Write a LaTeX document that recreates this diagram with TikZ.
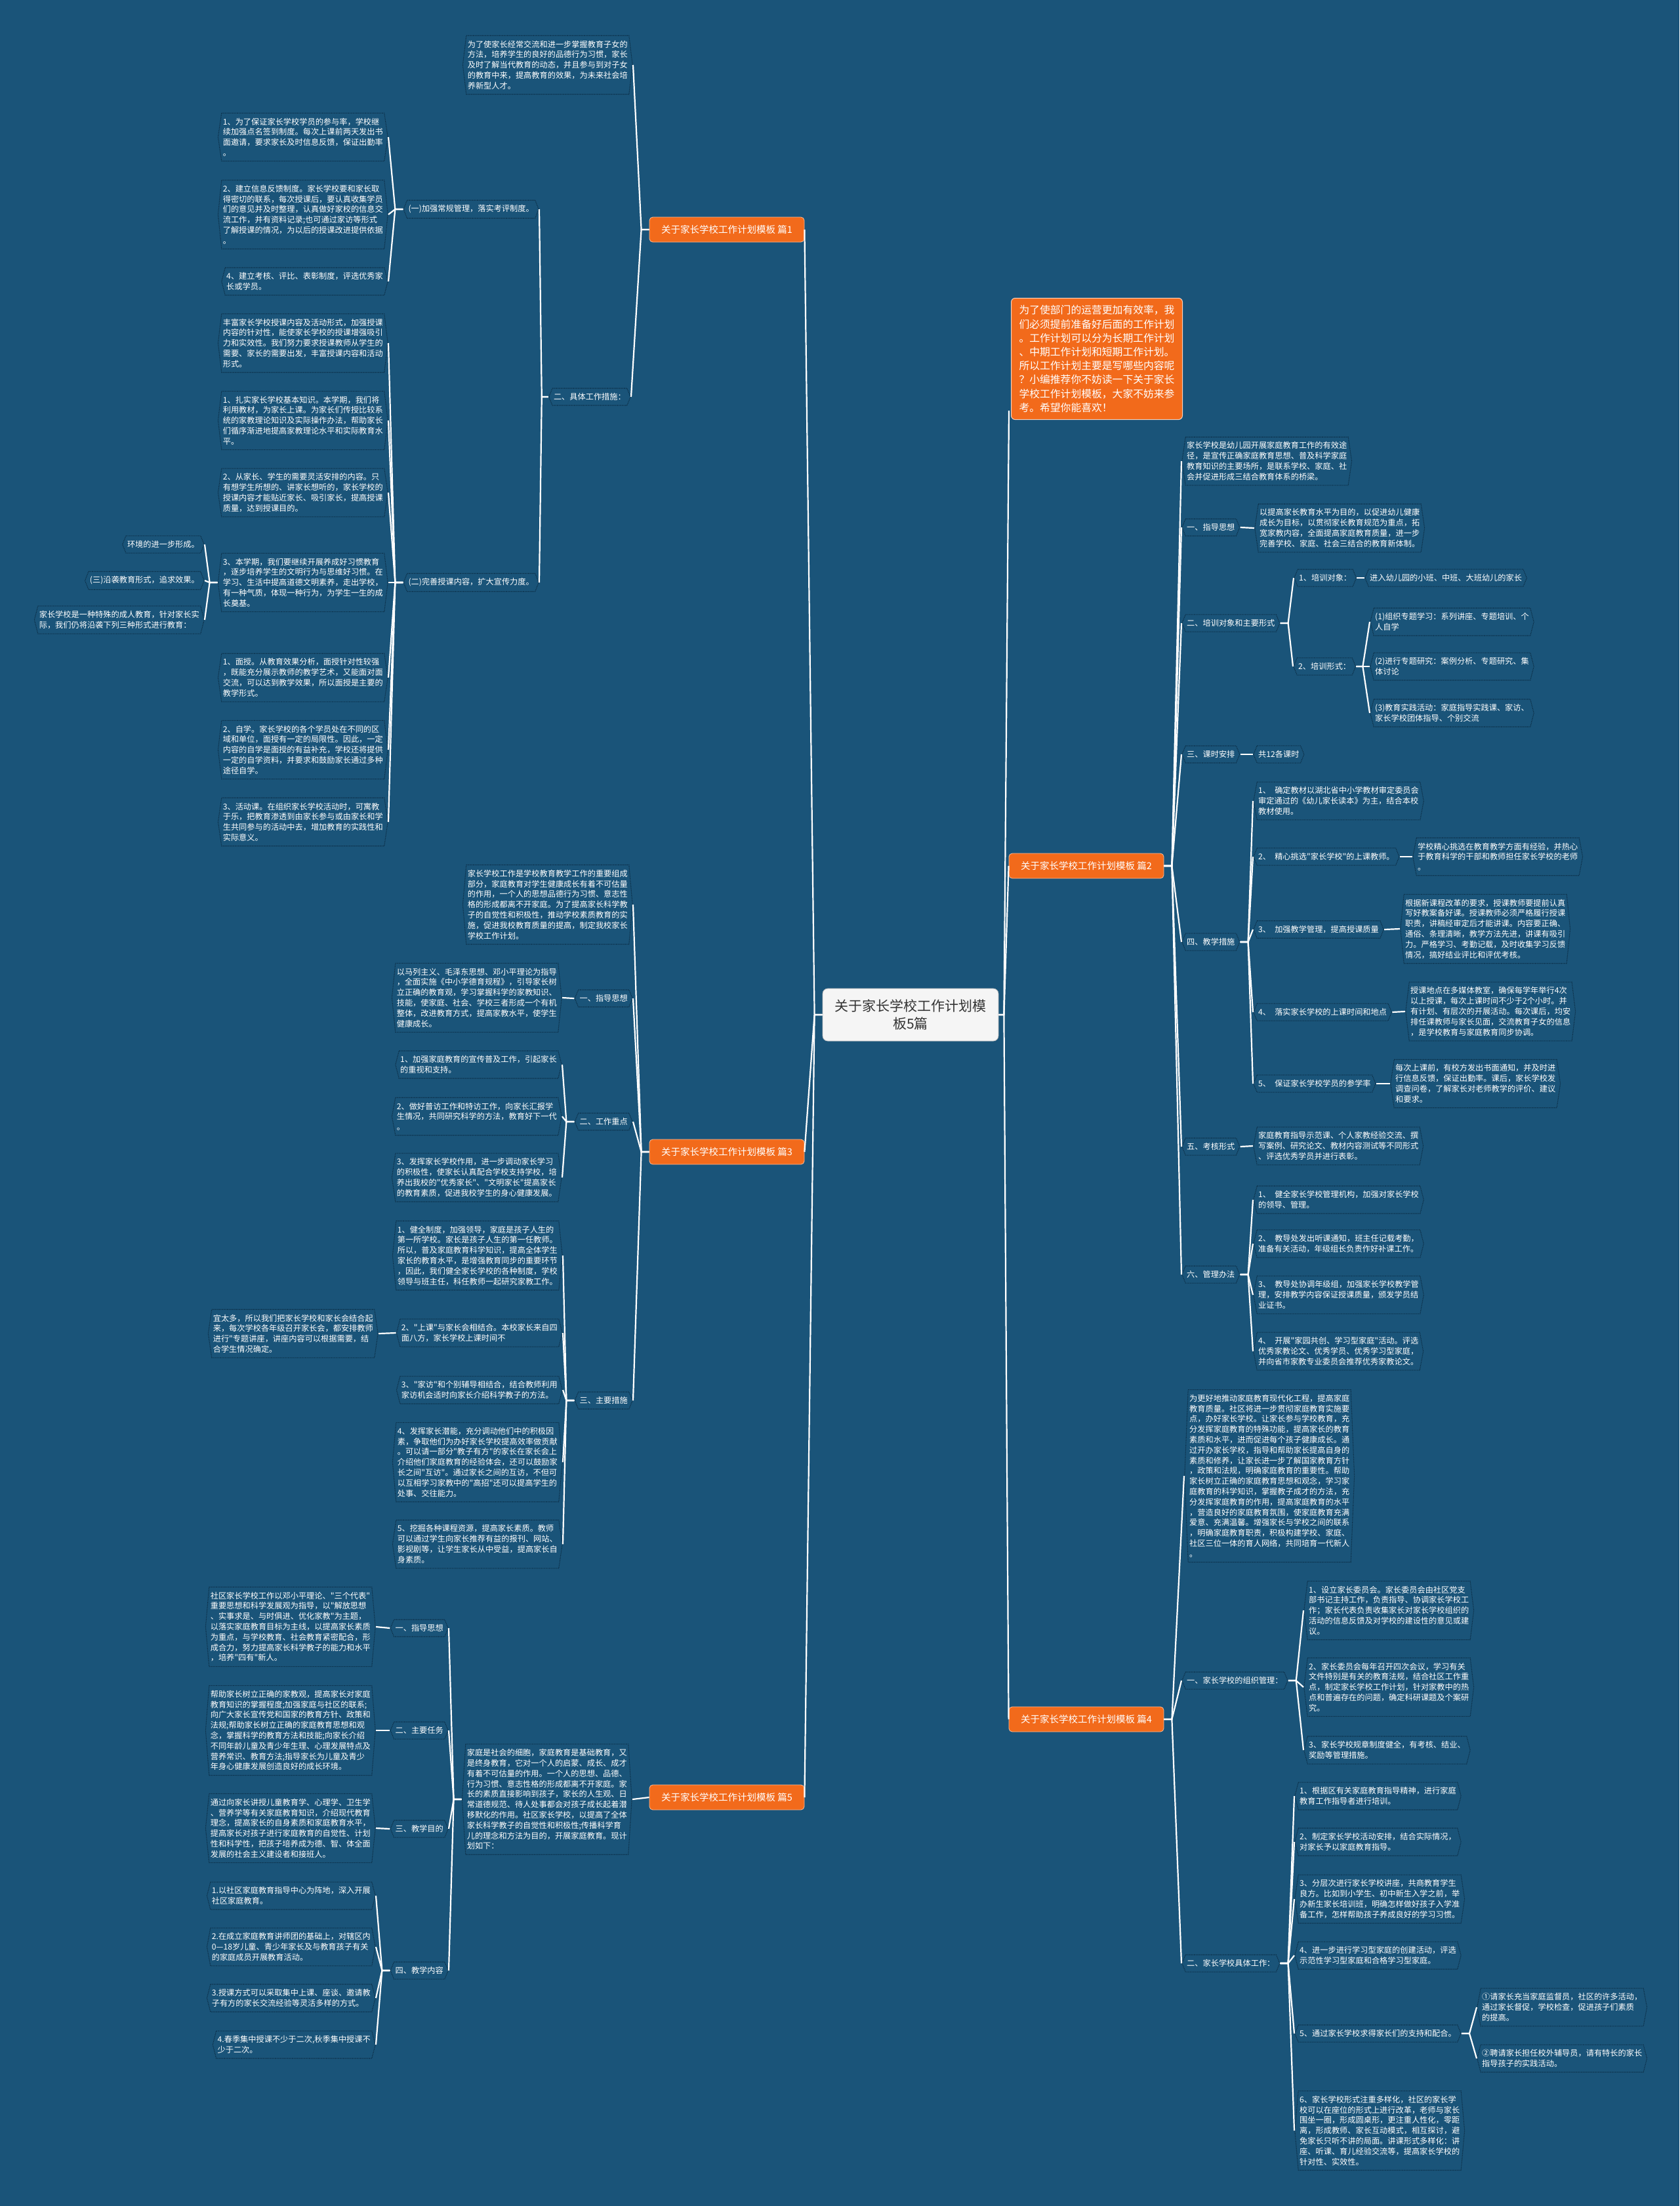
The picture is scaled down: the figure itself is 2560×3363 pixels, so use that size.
\documentclass[tikz,border=0pt]{standalone}
\usepackage{fontspec}
\newfontfamily\cjkfont{Noto Sans CJK SC}[Ligatures=TeXOff]
\usetikzlibrary{calc}
\definecolor{MapBlue}{HTML}{1A5479}
\definecolor{HexLine}{HTML}{0D324C}
\definecolor{TopicOrange}{HTML}{F26A1B}
\definecolor{RootText}{HTML}{333333}
\tikzset{
    link/.style={white,line width=2.2pt,line join=round},
    leaf/.style={rectangle,fill=MapBlue,inner xsep=8pt,inner ysep=8pt,text=white,align=left,
        font=\cjkfont\fontsize{12.2}{15.8}\selectfont,
        path picture={\draw[HexLine,line width=1.1pt,dash pattern=on 1.6pt off 1pt]
            ([xshift=6pt,yshift=-0.6pt]path picture bounding box.north west)
            -- ([xshift=-6pt,yshift=-0.6pt]path picture bounding box.north east)
            -- ([xshift=-0.6pt]path picture bounding box.east)
            -- ([xshift=-6pt,yshift=0.6pt]path picture bounding box.south east)
            -- ([xshift=6pt,yshift=0.6pt]path picture bounding box.south west)
            -- ([xshift=0.6pt]path picture bounding box.west) -- cycle;}},
    topic/.style={rectangle,rounded corners=5pt,fill=TopicOrange,draw=white!55!TopicOrange,line width=0.8pt,
        text=white,font=\cjkfont\fontsize{14.5}{18}\selectfont,minimum width=236pt,minimum height=38pt,inner sep=3pt},
    introbox/.style={rectangle,rounded corners=6pt,fill=TopicOrange,draw=white!70!TopicOrange,line width=1pt,
        text=white,align=left,font=\cjkfont\fontsize{15.8}{21.2}\selectfont,inner xsep=12pt,inner ysep=11pt},
    rootbox/.style={rectangle,rounded corners=8pt,fill=white!96!black,draw=white!75!black,line width=0.8pt,
        text=RootText,align=center,font=\cjkfont\fontsize{21}{27}\selectfont,minimum width=268pt,minimum height=80pt}
}
\begin{document}
\begin{tikzpicture}[x=1pt,y=-1pt]
\fill[MapBlue] (0,0) rectangle (2560,3363);
\useasboundingbox (0,0) rectangle (2560,3363);

% centre and intro
\node[rootbox] (root) at (1388,1547) {关于家长学校工作计划模\\板5篇};
\node[introbox,anchor=north west] (intro) at (1541,454) {为了使部门的运营更加有效率，我\\们必须提前准备好后面的工作计划\\。工作计划可以分为长期工作计划\\、中期工作计划和短期工作计划。\\所以工作计划主要是写哪些内容呢\\？小编推荐你不妨读一下关于家长\\学校工作计划模板，大家不妨来参\\考。希望你能喜欢！};

% branches
\node[topic] (p1) at (1108,350) {关于家长学校工作计划模板 篇1};
\node[topic] (p2) at (1656,1320) {关于家长学校工作计划模板 篇2};
\node[topic] (p3) at (1108,1756) {关于家长学校工作计划模板 篇3};
\node[topic] (p4) at (1656,2621) {关于家长学校工作计划模板 篇4};
\node[topic] (p5) at (1108,2740) {关于家长学校工作计划模板 篇5};

% ---- 篇1 ----
\node[leaf,anchor=east] (p1a) at (965,99) {为了使家长经常交流和进一步掌握教育子女的\\方法，培养学生的良好的品德行为习惯，家长\\及时了解当代教育的动态，并且参与到对子女\\的教育中来，提高教育的效果，为未来社会培\\养新型人才。};
\node[leaf,anchor=east] (p1b) at (962,605) {二、具体工作措施：};
\node[leaf,anchor=east] (p1b1) at (822,319) {(一)加强常规管理，落实考评制度。};
\node[leaf,anchor=east] (p1b2) at (822,888) {(二)完善授课内容，扩大宣传力度。};
\node[leaf,anchor=east] (p1c1) at (592,209) {1、为了保证家长学校学员的参与率，学校继\\续加强点名签到制度。每次上课前两天发出书\\面邀请，要求家长及时信息反馈，保证出勤率\\。};
\node[leaf,anchor=east] (p1c2) at (592,327) {2、建立信息反馈制度。家长学校要和家长取\\得密切的联系，每次授课后，要认真收集学员\\们的意见并及时整理，认真做好家校的信息交\\流工作，并有资料记录;也可通过家访等形式\\了解授课的情况，为以后的授课改进提供依据\\。};
\node[leaf,anchor=east] (p1c3) at (592,429) {4、建立考核、评比、表彰制度，评选优秀家\\长或学员。};
\node[leaf,anchor=east] (p1d1) at (592,523) {丰富家长学校授课内容及活动形式，加强授课\\内容的针对性，能使家长学校的授课增强吸引\\力和实效性。我们努力要求授课教师从学生的\\需要、家长的需要出发，丰富授课内容和活动\\形式。};
\node[leaf,anchor=east] (p1d2) at (592,641) {1、扎实家长学校基本知识。本学期，我们将\\利用教材，为家长上课。为家长们传授比较系\\统的家教理论知识及实际操作办法，帮助家长\\们循序渐进地提高家教理论水平和实际教育水\\平。};
\node[leaf,anchor=east] (p1d3) at (592,751) {2、从家长、学生的需要灵活安排的内容。只\\有想学生所想的、讲家长想听的，家长学校的\\授课内容才能贴近家长、吸引家长，提高授课\\质量，达到授课目的。};
\node[leaf,anchor=east] (p1d4) at (592,888) {3、本学期，我们要继续开展养成好习惯教育\\，逐步培养学生的文明行为与思维好习惯。在\\学习、生活中提高道德文明素养，走出学校，\\有一种气质，体现一种行为，为学生一生的成\\长奠基。};
\node[leaf,anchor=east] (p1d5) at (592,1033) {1、面授。从教育效果分析，面授针对性较强\\，既能充分展示教师的教学艺术，又能面对面\\交流，可以达到教学效果，所以面授是主要的\\教学形式。};
\node[leaf,anchor=east] (p1d6) at (592,1143) {2、自学。家长学校的各个学员处在不同的区\\域和单位，面授有一定的局限性。因此，一定\\内容的自学是面授的有益补充，学校还将提供\\一定的自学资料，并要求和鼓励家长通过多种\\途径自学。};
\node[leaf,anchor=east] (p1d7) at (592,1253) {3、活动课。在组织家长学校活动时，可寓教\\于乐，把教育渗透到由家长参与或由家长和学\\生共同参与的活动中去，增加教育的实践性和\\实际意义。};
\node[leaf,anchor=east] (p1e1) at (312,830) {环境的进一步形成。};
\node[leaf,anchor=east] (p1e2) at (312,885) {(三)沿袭教育形式，追求效果。};
\node[leaf,anchor=east] (p1e3) at (312,945) {家长学校是一种特殊的成人教育，针对家长实\\际，我们仍将沿袭下列三种形式进行教育：};

% ---- 篇3 ----
\node[leaf,anchor=east] (p3a) at (965,1379) {家长学校工作是学校教育教学工作的重要组成\\部分，家庭教育对学生健康成长有着不可估量\\的作用，一个人的思想品德行为习惯、意志性\\格的形成都离不开家庭。为了提高家长科学教\\子的自觉性和积极性，推动学校素质教育的实\\施，促进我校教育质量的提高，制定我校家长\\学校工作计划。};
\node[leaf,anchor=east] (p3b) at (965,1522) {一、指导思想};
\node[leaf,anchor=east] (p3b1) at (857,1521) {以马列主义、毛泽东思想、邓小平理论为指导\\，全面实施《中小学德育规程》，引导家长树\\立正确的教育观，学习掌握科学的家教知识、\\技能，使家庭、社会、学校三者形成一个有机\\整体，改进教育方式，提高家教水平，使学生\\健康成长。};
\node[leaf,anchor=east] (p3c) at (965,1710) {二、工作重点};
\node[leaf,anchor=east] (p3c1) at (857,1623) {1、加强家庭教育的宣传普及工作，引起家长\\的重视和支持。};
\node[leaf,anchor=east] (p3c2) at (857,1702) {2、做好普访工作和特访工作，向家长汇报学\\生情况，共同研究科学的方法，教育好下一代\\。};
\node[leaf,anchor=east] (p3c3) at (857,1795) {3、发挥家长学校作用，进一步调动家长学习\\的积极性，使家长认真配合学校支持学校，培\\养出我校的"优秀家长"、"文明家长"提高家长\\的教育素质，促进我校学生的身心健康发展。};
\node[leaf,anchor=east] (p3d) at (965,2135) {三、主要措施};
\node[leaf,anchor=east] (p3d1) at (858,1914) {1、健全制度，加强领导，家庭是孩子人生的\\第一所学校。家长是孩子人生的第一任教师。\\所以，普及家庭教育科学知识，提高全体学生\\家长的教育水平，是增强教育同步的重要环节\\，因此，我们健全家长学校的各种制度，学校\\领导与班主任，科任教师一起研究家教工作。};
\node[leaf,anchor=east] (p3d2) at (858,2032) {2、"上课"与家长会相结合。本校家长来自四\\面八方，家长学校上课时间不};
\node[leaf,anchor=east] (p3d3) at (858,2119) {3、"家访"和个别辅导相结合，结合教师利用\\家访机会适时向家长介绍科学教子的方法。};
\node[leaf,anchor=east] (p3d4) at (858,2229) {4、发挥家长潜能，充分调动他们中的积极因\\素，争取他们为办好家长学校提高效率做贡献\\。可以请一部分"教子有方"的家长在家长会上\\介绍他们家庭教育的经验体会，还可以鼓励家\\长之间"互访"。通过家长之间的互访，不但可\\以互相学习家教中的"高招"还可以提高学生的\\处事、交往能力。};
\node[leaf,anchor=east] (p3d5) at (858,2354) {5、挖掘各种课程资源，提高家长素质。教师\\可以通过学生向家长推荐有益的报刊、网站、\\影视剧等，让学生家长从中受益，提高家长自\\身素质。};
\node[leaf,anchor=east] (p3e) at (577,2033) {宜太多，所以我们把家长学校和家长会结合起\\来，每次学校各年级召开家长会，都安排教师\\进行"专题讲座，讲座内容可以根据需要，结\\合学生情况确定。};

% ---- 篇5 ----
\node[leaf,anchor=east] (p5a) at (964,2743) {家庭是社会的细胞，家庭教育是基础教育，又\\是终身教育，它对一个人的启蒙、成长、成才\\有着不可估量的作用。一个人的思想、品德、\\行为习惯、意志性格的形成都离不开家庭。家\\长的素质直接影响到孩子，家长的人生观、日\\常道德规范、待人处事都会对孩子成长起着潜\\移默化的作用。社区家长学校，以提高了全体\\家长科学教子的自觉性和积极性;传播科学育\\儿的理念和方法为目的，开展家庭教育。现计\\划如下：};
\node[leaf,anchor=east] (p5b) at (684,2482) {一、指导思想};
\node[leaf,anchor=east] (p5c) at (684,2638) {二、主要任务};
\node[leaf,anchor=east] (p5d) at (684,2788) {三、教学目的};
\node[leaf,anchor=east] (p5e) at (684,3004) {四、教学内容};
\node[leaf,anchor=east] (p5b1) at (573,2480) {社区家长学校工作以邓小平理论、"三个代表"\\重要思想和科学发展观为指导，以"解放思想\\、实事求是、与时俱进、优化家教"为主题，\\以落实家庭教育目标为主线，以提高家长素质\\为重点，与学校教育、社会教育紧密配合，形\\成合力，努力提高家长科学教子的能力和水平\\，培养"四有"新人。};
\node[leaf,anchor=east] (p5c1) at (573,2638) {帮助家长树立正确的家教观，提高家长对家庭\\教育知识的掌握程度;加强家庭与社区的联系;\\向广大家长宣传党和国家的教育方针、政策和\\法规;帮助家长树立正确的家庭教育思想和观\\念，掌握科学的教育方法和技能;向家长介绍\\不同年龄儿童及青少年生理、心理发展特点及\\营养常识、教育方法;指导家长为儿童及青少\\年身心健康发展创造良好的成长环境。};
\node[leaf,anchor=east] (p5d1) at (573,2787) {通过向家长讲授儿童教育学、心理学、卫生学\\、营养学等有关家庭教育知识，介绍现代教育\\理念，提高家长的自身素质和家庭教育水平，\\提高家长对孩子进行家庭教育的自觉性、计划\\性和科学性，把孩子培养成为德、智、体全面\\发展的社会主义建设者和接班人。};
\node[leaf,anchor=east] (p5e1) at (573,2890) {1.以社区家庭教育指导中心为阵地，深入开展\\社区家庭教育。};
\node[leaf,anchor=east] (p5e2) at (573,2968) {2.在成立家庭教育讲师团的基础上，对辖区内\\0—18岁儿童、青少年家长及与教育孩子有关\\的家庭成员开展教育活动。};
\node[leaf,anchor=east] (p5e3) at (573,3046) {3.授课方式可以采取集中上课、座谈、邀请教\\子有方的家长交流经验等灵活多样的方式。};
\node[leaf,anchor=east] (p5e4) at (573,3117) {4.春季集中授课不少于二次,秋季集中授课不\\少于二次。};

% ---- 篇2 ----
\node[leaf,anchor=west] (p2a) at (1801,703) {家长学校是幼儿园开展家庭教育工作的有效途\\径，是宣传正确家庭教育思想、普及科学家庭\\教育知识的主要场所，是联系学校、家庭、社\\会并促进形成三结合教育体系的桥梁。};
\node[leaf,anchor=west] (p2b) at (1801,804) {一、指导思想};
\node[leaf,anchor=west] (p2b1) at (1912,805) {以提高家长教育水平为目的，以促进幼儿健康\\成长为目标，以贯彻家长教育规范为重点，拓\\宽家教内容，全面提高家庭教育质量，进一步\\完善学校、家庭、社会三结合的教育新体制。};
\node[leaf,anchor=west] (p2c) at (1801,950) {二、培训对象和主要形式};
\node[leaf,anchor=west] (p2c1) at (1972,881) {1、培训对象：};
\node[leaf,anchor=west] (p2c1a) at (2080,881) {进入幼儿园的小班、中班、大班幼儿的家长};
\node[leaf,anchor=west] (p2c2) at (1971,1016) {2、培训形式：};
\node[leaf,anchor=west] (p2c2a) at (2088,948) {(1)组织专题学习：系列讲座、专题培训、个\\人自学};
\node[leaf,anchor=west] (p2c2b) at (2088,1016) {(2)进行专题研究：案例分析、专题研究、集\\体讨论};
\node[leaf,anchor=west] (p2c2c) at (2088,1087) {(3)教育实践活动：家庭指导实践课、家访、\\家长学校团体指导、个别交流};
\node[leaf,anchor=west] (p2d) at (1801,1150) {三、课时安排};
\node[leaf,anchor=west] (p2d1) at (1910,1150) {共12各课时};
\node[leaf,anchor=west] (p2e) at (1801,1436) {四、教学措施};
\node[leaf,anchor=west] (p2e1) at (1910,1221) {1、\enspace{}确定教材以湖北省中小学教材审定委员会\\审定通过的《幼儿家长读本》为主，结合本校\\教材使用。};
\node[leaf,anchor=west] (p2e2) at (1910,1306) {2、\enspace{}精心挑选"家长学校"的上课教师。};
\node[leaf,anchor=west] (p2e3) at (1910,1417) {3、\enspace{}加强教学管理，提高授课质量};
\node[leaf,anchor=west] (p2e4) at (1910,1543) {4、\enspace{}落实家长学校的上课时间和地点};
\node[leaf,anchor=west] (p2e5) at (1910,1652) {5、\enspace{}保证家长学校学员的参学率};
\node[leaf,anchor=west] (p2e2a) at (2153,1306) {学校精心挑选在教育教学方面有经验，并热心\\于教育科学的干部和教师担任家长学校的老师\\。};
\node[leaf,anchor=west] (p2e3a) at (2134,1416) {根据新课程改革的要求，授课教师要提前认真\\写好教案备好课。授课教师必须严格履行授课\\职责，讲稿经审定后才能讲课。内容要正确、\\通俗、条理清晰，教学方法先进，讲课有吸引\\力。严格学习、考勤记载，及时收集学习反馈\\情况，搞好结业评比和评优考核。};
\node[leaf,anchor=west] (p2e4a) at (2142,1542) {授课地点在多媒体教室，确保每学年举行4次\\以上授课，每次上课时间不少于2个小时。并\\有计划、有层次的开展活动。每次课后，均安\\排任课教师与家长见面，交流教育子女的信息\\，是学校教育与家庭教育同步协调。};
\node[leaf,anchor=west] (p2e5a) at (2119,1652) {每次上课前，有校方发出书面通知，并及时进\\行信息反馈，保证出勤率。课后，家长学校发\\调查问卷，了解家长对老师教学的评价、建议\\和要求。};
\node[leaf,anchor=west] (p2f) at (1801,1748) {五、考核形式};
\node[leaf,anchor=west] (p2f1) at (1910,1747) {家庭教育指导示范课、个人家教经验交流、撰\\写案例、研究论文、教材内容测试等不同形式\\、评选优秀学员并进行表彰。};
\node[leaf,anchor=west] (p2g) at (1801,1943) {六、管理办法};
\node[leaf,anchor=west] (p2g1) at (1910,1829) {1、\enspace{}健全家长学校管理机构，加强对家长学校\\的领导、管理。};
\node[leaf,anchor=west] (p2g2) at (1910,1896) {2、\enspace{}教导处发出听课通知，班主任记载考勤，\\准备有关活动，年级组长负责作好补课工作。};
\node[leaf,anchor=west] (p2g3) at (1910,1974) {3、\enspace{}教导处协调年级组，加强家长学校教学管\\理，安排教学内容保证授课质量，颁发学员结\\业证书。};
\node[leaf,anchor=west] (p2g4) at (1910,2060) {4、\enspace{}开展"家园共创、学习型家庭"活动。评选\\优秀家教论文、优秀学员、优秀学习型家庭，\\并向省市家教专业委员会推荐优秀家教论文。};

% ---- 篇4 ----
\node[leaf,anchor=west] (p4a) at (1805,2250) {为更好地推动家庭教育现代化工程，提高家庭\\教育质量。社区将进一步贯彻家庭教育实施要\\点，办好家长学校。让家长参与学校教育，充\\分发挥家庭教育的特殊功能，提高家长的教育\\素质和水平，进而促进每个孩子健康成长。通\\过开办家长学校，指导和帮助家长提高自身的\\素质和修养，让家长进一步了解国家教育方针\\，政策和法规，明确家庭教育的重要性。帮助\\家长树立正确的家庭教育思想和观念，学习家\\庭教育的科学知识，掌握教子成才的方法，充\\分发挥家庭教育的作用，提高家庭教育的水平\\，营造良好的家庭教育氛围，使家庭教育充满\\爱意、充满温馨。增强家长与学校之间的联系\\，明确家庭教育职责，积极构建学校、家庭、\\社区三位一体的育人网络，共同培育一代新人\\。};
\node[leaf,anchor=west] (p4b) at (1801,2562) {一、家长学校的组织管理：};
\node[leaf,anchor=west] (p4b1) at (1987,2455) {1、设立家长委员会。家长委员会由社区党支\\部书记主持工作，负责指导、协调家长学校工\\作；家长代表负责收集家长对家长学校组织的\\活动的信息反馈及对学校的建设性的意见或建\\议。};
\node[leaf,anchor=west] (p4b2) at (1987,2572) {2、家长委员会每年召开四次会议，学习有关\\文件特别是有关的教育法规，结合社区工作重\\点，制定家长学校工作计划，针对家教中的热\\点和普遍存在的问题，确定科研课题及个案研\\究。};
\node[leaf,anchor=west] (p4b3) at (1987,2668) {3、家长学校规章制度健全，有考核、结业、\\奖励等管理措施。};
\node[leaf,anchor=west] (p4c) at (1801,2993) {二、家长学校具体工作：};
\node[leaf,anchor=west] (p4c1) at (1973,2738) {1、根据区有关家庭教育指导精神，进行家庭\\教育工作指导者进行培训。};
\node[leaf,anchor=west] (p4c2) at (1973,2808) {2、制定家长学校活动安排，结合实际情况，\\对家长予以家庭教育指导。};
\node[leaf,anchor=west] (p4c3) at (1973,2895) {3、分层次进行家长学校讲座，共商教育学生\\良方。比如到小学生、初中新生入学之前，举\\办新生家长培训班，明确怎样做好孩子入学准\\备工作，怎样帮助孩子养成良好的学习习惯。};
\node[leaf,anchor=west] (p4c4) at (1973,2981) {4、进一步进行学习型家庭的创建活动，评选\\示范性学习型家庭和合格学习型家庭。};
\node[leaf,anchor=west] (p4c5) at (1973,3100) {5、通过家长学校求得家长们的支持和配合。};
\node[leaf,anchor=west] (p4c6) at (1973,3248) {6、家长学校形式注重多样化，社区的家长学\\校可以在座位的形式上进行改革，老师与家长\\围坐一圈，形成圆桌形，更注重人性化，零距\\离，形成教师、家长互动模式，相互探讨，避\\免家长只听不讲的局面。讲课形式多样化：讲\\座、听课、育儿经验交流等，提高家长学校的\\针对性、实效性。};
\node[leaf,anchor=west] (p4c5a) at (2251,3060) {①请家长充当家庭监督员，社区的许多活动，\\通过家长督促，学校检查，促进孩子们素质\\的提高。};
\node[leaf,anchor=west] (p4c5b) at (2251,3138) {②聘请家长担任校外辅导员，请有特长的家长\\指导孩子的实践活动。};

% connectors: root
\foreach \b in {p1,p3,p5} \draw[link] (root.west) -- ++(-12,0) -- (\b.east);
\foreach \b in {p2,p4} \draw[link] (root.east) -- ++(8,0) -- (\b.west);
\draw[link] (root.east) -- ++(8,0) -- ($(intro.south west)+(-3,-14)$);

% connectors: left side
\foreach \c in {p1a,p1b} \draw[link] (p1.west) -- ++(-12,0) -- (\c.east);
\foreach \c in {p1b1,p1b2} \draw[link] (p1b.west) -- ++(-10,0) -- (\c.east);
\foreach \c in {p1c1,p1c2,p1c3} \draw[link] (p1b1.west) -- ++(-12,0) -- (\c.east);
\foreach \c in {p1d1,p1d2,p1d3,p1d4,p1d5,p1d6,p1d7} \draw[link] (p1b2.west) -- ++(-12,0) -- (\c.east);
\foreach \c in {p1e1,p1e2,p1e3} \draw[link] (p1d4.west) -- ++(-12,0) -- (\c.east);
\foreach \c in {p3a,p3b,p3c,p3d} \draw[link] (p3.west) -- ++(-12,0) -- (\c.east);
\draw[link] (p3b.west) -- (p3b1.east);
\foreach \c in {p3c1,p3c2,p3c3} \draw[link] (p3c.west) -- ++(-12,0) -- (\c.east);
\foreach \c in {p3d1,p3d2,p3d3,p3d4,p3d5} \draw[link] (p3d.west) -- ++(-12,0) -- (\c.east);
\draw[link] (p3d2.west) -- (p3e.east);
\draw[link] (p5.west) -- (p5a.east);
\foreach \c in {p5b,p5c,p5d,p5e} \draw[link] (p5a.west) -- ++(-12,0) -- (\c.east);
\draw[link] (p5b.west) -- (p5b1.east);
\draw[link] (p5c.west) -- (p5c1.east);
\draw[link] (p5d.west) -- (p5d1.east);
\foreach \c in {p5e1,p5e2,p5e3,p5e4} \draw[link] (p5e.west) -- ++(-12,0) -- (\c.east);

% connectors: right side
\foreach \c in {p2a,p2b,p2c,p2d,p2e,p2f,p2g} \draw[link] (p2.east) -- ++(12,0) -- (\c.west);
\draw[link] (p2b.east) -- (p2b1.west);
\foreach \c in {p2c1,p2c2} \draw[link] (p2c.east) -- ++(12,0) -- (\c.west);
\draw[link] (p2c1.east) -- (p2c1a.west);
\foreach \c in {p2c2a,p2c2b,p2c2c} \draw[link] (p2c2.east) -- ++(10,0) -- (\c.west);
\draw[link] (p2d.east) -- (p2d1.west);
\foreach \c in {p2e1,p2e2,p2e3,p2e4,p2e5} \draw[link] (p2e.east) -- ++(12,0) -- (\c.west);
\draw[link] (p2e2.east) -- (p2e2a.west);
\draw[link] (p2e3.east) -- (p2e3a.west);
\draw[link] (p2e4.east) -- (p2e4a.west);
\draw[link] (p2e5.east) -- (p2e5a.west);
\draw[link] (p2f.east) -- (p2f1.west);
\foreach \c in {p2g1,p2g2,p2g3,p2g4} \draw[link] (p2g.east) -- ++(12,0) -- (\c.west);
\foreach \c in {p4a,p4b,p4c} \draw[link] (p4.east) -- ++(12,0) -- (\c.west);
\foreach \c in {p4b1,p4b2,p4b3} \draw[link] (p4b.east) -- ++(12,0) -- (\c.west);
\foreach \c in {p4c1,p4c2,p4c3,p4c4,p4c5,p4c6} \draw[link] (p4c.east) -- ++(12,0) -- (\c.west);
\foreach \c in {p4c5a,p4c5b} \draw[link] (p4c5.east) -- ++(12,0) -- (\c.west);
\end{tikzpicture}
\end{document}
